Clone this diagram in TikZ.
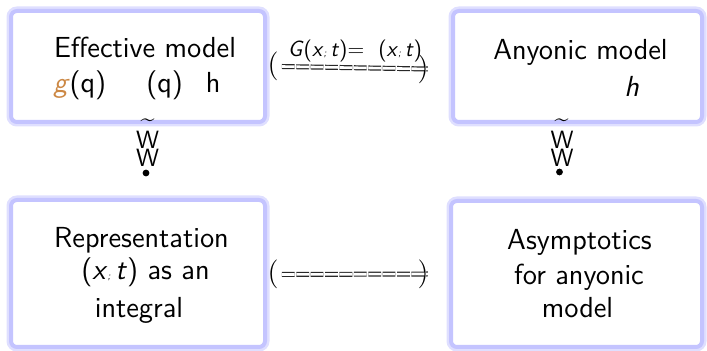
\documentclass[tikz,border=0pt]{standalone}
\usepackage{fontspec}
\usepackage{xcolor}
\usepackage{tikz}
\usetikzlibrary{positioning}
\renewcommand{\familydefault}{\sfdefault}
\definecolor{boxEdge}{RGB}{196,196,255}
\definecolor{gOrange}{RGB}{204,136,68}
\definecolor{inkline}{RGB}{40,40,40}
\newcommand{\xsemt}{\textit{x}{\tiny\textit{;}}\,\textit{t}}

\begin{document}
\begin{tikzpicture}[x=0.5pt,y=-0.5pt,
  modelbox/.style={draw=boxEdge,line width=2pt,fill=white,rounded corners=3pt,inner sep=0pt,
    preaction={draw=boxEdge!55,line width=4.5pt}},
  boxtext/.style={font=\fontsize{14.5}{17}\selectfont,anchor=base,inner sep=0pt},
  paren/.style={font=\fontsize{14}{17}\selectfont,inner sep=0pt},
  lbl/.style={font=\fontsize{11}{13}\selectfont,inner sep=0pt},
  wglyph/.style={font=\fontsize{12.5}{15}\selectfont,inner sep=0pt},
  dotnode/.style={circle,fill=black,inner sep=0pt,minimum size=3.4pt},
  eqline/.style={draw=inkline,line width=0.6pt,double=white,double distance=1.3pt,dash pattern=on 6.4pt off 0.8pt}]
  \useasboundingbox (0,0) rectangle (707,351);
  % the four boxes
  \node[modelbox,minimum width=127pt,minimum height=55.5pt] (eff) at (138,66.5) {};
  \node[modelbox,minimum width=124.5pt,minimum height=55.5pt] (any) at (577.5,66.5) {};
  \node[modelbox,minimum width=127pt,minimum height=73.5pt] (rep) at (138,273.5) {};
  \node[modelbox,minimum width=125.5pt,minimum height=73pt] (asy) at (576.5,274) {};
  % box texts
  \node[boxtext] (effA) at (145,58) {Effective model};
  \node[boxtext,anchor=base west] (effB) at (53,93) {\textcolor{gOrange}{\textit{g}}(q)\hspace{20pt}(q)\hspace{11.5pt}h};
  \node[boxtext] (anyA) at (580.5,60) {Anyonic model};
  \node[boxtext,anchor=base west] (anyB) at (624,97) {\textit{h}};
  \node[boxtext] (repA) at (141.5,248) {Representation};
  \node[boxtext] (repB) at (145.5,280) {(\xsemt) as an};
  \node[boxtext] (repC) at (139,318) {integral};
  \node[boxtext] (asyA) at (579.5,250) {Asymptotics};
  \node[boxtext] (asyB) at (579,285) {for anyonic};
  \node[boxtext] (asyC) at (577.5,318) {model};
  % horizontal links
  \node[paren] (lpTop) at (273,66.5) {$\bigl($};
  \node[paren] (rpTop) at (423,69) {$\bigr)$};
  \draw[eqline] ([xshift=1.5pt]lpTop.east) -- ([xshift=-0.5pt]rpTop.east);
  \node[lbl,anchor=base] (glbl) at (355,57) {\textit{G}(\xsemt)=\hspace{7pt}(\xsemt)};
  \node[paren] (lpBot) at (273,274.5) {$\bigl($};
  \node[paren] (rpBot) at (423,274) {$\bigr)$};
  \draw[eqline] ([xshift=1.5pt]lpBot.east) -- ([xshift=-0.5pt]rpBot.east);
  % vertical links
  \node[wglyph] (tilL) at (147.5,123) {\textasciitilde};
  \node[wglyph] (wL1) at (147.5,140) {W};
  \node[wglyph] (wL2) at (147.5,157.5) {W};
  \node[dotnode] (dotL) at (146,173) {};
  \node[wglyph] (tilR) at (561.5,123) {\textasciitilde};
  \node[wglyph] (wR1) at (562,140) {W};
  \node[wglyph] (wR2) at (562,157.5) {W};
  \node[dotnode] (dotR) at (559.5,172) {};
\end{tikzpicture}
\end{document}
